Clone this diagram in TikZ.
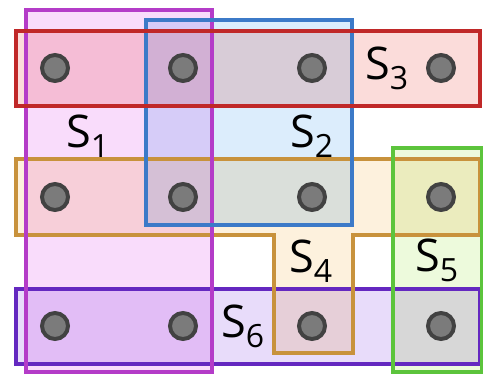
\documentclass[tikz,border=0pt]{standalone}
\usepackage{fontspec}
\setmainfont{Open Sans}
\usetikzlibrary{positioning}
\definecolor{setonedraw}{HTML}{B43CC8}
\definecolor{settwodraw}{HTML}{3C7AC8}
\definecolor{setthreedraw}{HTML}{C02828}
\definecolor{setfourdraw}{HTML}{C8923C}
\definecolor{setfivedraw}{HTML}{5CC43C}
\definecolor{setsixdraw}{HTML}{6428C0}
\definecolor{setonefill}{HTML}{F9DCFB}
\definecolor{settwofill}{HTML}{DCEDFC}
\definecolor{setthreefill}{HTML}{FBDCDA}
\definecolor{setfourfill}{HTML}{FDF1DD}
\definecolor{setfivefill}{HTML}{EDFADC}
\definecolor{setsixfill}{HTML}{E8DCFA}
\definecolor{dotfill}{HTML}{7B7B7B}
\definecolor{dotring}{HTML}{424242}
\tikzset{
  setbox/.style={line width=4.5pt, line join=miter},
  elemdot/.style={circle, draw=dotring, fill=dotfill, line width=4pt, minimum size=26pt, inner sep=0pt},
  setlabel/.style={anchor=base west, inner sep=0pt, font=\fontsize{45}{50}\selectfont},
}
\newcommand{\setname}[1]{S\lower10pt\hbox{\fontsize{32}{32}\selectfont #1}}

\begin{document}
\begin{tikzpicture}[x=1pt,y=-1pt]
        \useasboundingbox (0,0) rectangle (483,375);
        % fills, mixed like ink
        \begin{scope}[blend mode=multiply]
          \fill[setsixfill] (16,289) rectangle (480,364);
          \fill[setfourfill] (16,159) -- (480,159) -- (480,235) -- (353,235) -- (353,353) -- (274,353) -- (274,235) -- (16,235) -- cycle;
          \fill[setonefill] (26,10) rectangle (212,372);
          \fill[settwofill] (146,20) rectangle (352,225);
          \fill[setthreefill] (16,31) rectangle (480,106);
          \fill[setfivefill] (393,148) rectangle (482,372);
        \end{scope}
        % outlines
        \draw[setbox,setsixdraw] (16,289) rectangle (480,364);
        \draw[setbox,setfourdraw] (16,159) -- (480,159) -- (480,235) -- (353,235) -- (353,353) -- (274,353) -- (274,235) -- (16,235) -- cycle;
        \draw[setbox,setonedraw] (26,10) rectangle (212,372);
        \draw[setbox,settwodraw] (146,20) rectangle (352,225);
        \draw[setbox,setthreedraw] (16,31) rectangle (480,106);
        \draw[setbox,setfivedraw] (393,148) rectangle (482,372);
        % elements
        \foreach \c/\x in {a/55,b/183,c/312,d/441}
          \foreach \r/\y in {1/68,2/197,3/326}
            \node[elemdot] (e\c\r) at (\x,\y) {};
        % labels
        \node[setlabel] (sone) at (66,147) {\setname{1}};
        \node[setlabel] (stwo) at (290,147) {\setname{2}};
        \node[setlabel] (sthree) at (365,79) {\setname{3}};
        \node[setlabel] (sfour) at (289,272) {\setname{4}};
        \node[setlabel] (sfive) at (415,271) {\setname{5}};
        \node[setlabel] (ssix) at (221,337) {\setname{6}};
      \end{tikzpicture}
\end{document}
